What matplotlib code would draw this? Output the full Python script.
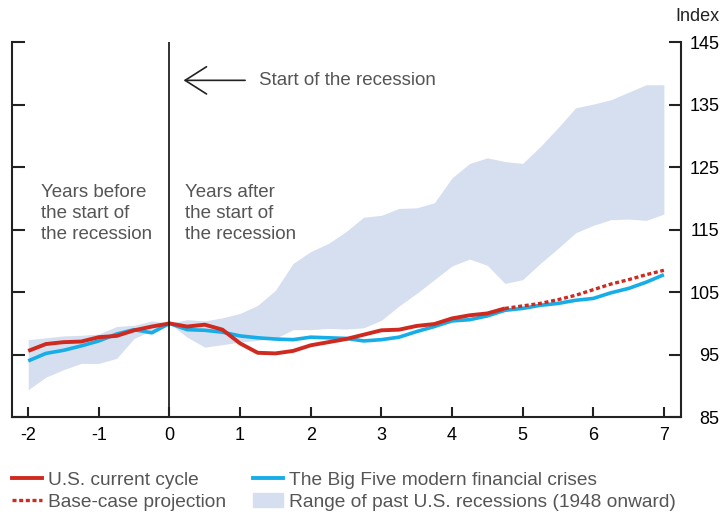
import numpy as np
import matplotlib.pyplot as plt
from matplotlib.lines import Line2D
from matplotlib.patches import Patch

plt.rcParams['font.family'] = ['Liberation Sans', 'DejaVu Sans']
plt.rcParams['axes.unicode_minus'] = False

# quarters from two years before to seven years after the start of the recession
years = np.arange(-2, 7.01, 0.25)

us_current = [95.6, 96.7, 97.0, 97.1, 97.8, 98.0, 98.9, 99.5, 100.0, 99.5, 99.8, 99.0,
              96.8, 95.3, 95.2, 95.6, 96.5, 97.0, 97.5, 98.2, 98.9, 99.0, 99.6,
              99.9, 100.8, 101.3, 101.6, 102.4]
base_case = [102.4, 102.8, 103.2, 103.8, 104.5, 105.4, 106.3, 107.0, 107.8, 108.5]

big_five = [94.0, 95.2, 95.7, 96.4, 97.2, 98.3, 99.0, 98.5, 100.0, 99.0, 98.9, 98.6,
            98.0, 97.7, 97.5, 97.4, 97.8, 97.7, 97.6, 97.2, 97.4, 97.8, 98.7, 99.5,
            100.4, 100.6, 101.2, 102.1, 102.4, 102.9, 103.2, 103.7, 104.0, 104.9,
            105.6, 106.6, 107.8]

range_hi = [97.4, 97.7, 98.0, 98.1, 98.3, 99.5, 99.7, 100.4, 100.0, 100.6, 100.4, 100.9,
            101.6, 102.9, 105.3, 109.6, 111.5, 112.8, 114.7, 117.0, 117.3, 118.4, 118.5,
            119.3, 123.3, 125.6, 126.5, 125.9, 125.6, 128.3, 131.3, 134.5, 135.1, 135.8,
            137.0, 138.2, 138.2]
range_lo = [89.4, 91.4, 92.6, 93.6, 93.6, 94.4, 97.6, 98.9, 100.0, 97.8, 96.2, 96.6,
            97.0, 97.3, 97.6, 99.0, 99.0, 99.2, 99.1, 99.3, 100.5, 102.8, 104.8, 107.0,
            109.2, 110.3, 109.3, 106.4, 107.0, 109.6, 112.0, 114.5, 115.7, 116.6, 116.7,
            116.5, 117.5]

red = '#cf2a20'
blue = '#17ade6'
band = '#d5dff0'
grey = '#555555'
dark = '#222222'

fig = plt.figure(figsize=(7.22, 5.15), dpi=100)
ax = fig.add_axes([0.0166, 0.190, 0.9264, 0.728])

ax.fill_between(years, range_lo, range_hi, color=band, lw=0)
ax.plot(years, big_five, color=blue, lw=2.6, solid_capstyle='butt')
ax.plot(years[:len(us_current)], us_current, color=red, lw=2.8, solid_capstyle='butt')
ax.plot(years[len(us_current) - 1:], base_case, color=red, lw=2.4, ls=(0, (1.2, 0.8)))
ax.axvline(0, color=dark, lw=1.3)

ax.set_xlim(-2.23, 7.24)
ax.set_ylim(85, 145)
ax.set_xticks(range(-2, 8))
ax.set_yticks(range(85, 146, 10))

ax.spines['top'].set_visible(False)
for s in ['left', 'right', 'bottom']:
    ax.spines[s].set_linewidth(1.5)
    ax.spines[s].set_color(dark)
ax.yaxis.set_ticks_position('both')
ax.tick_params(axis='y', direction='in', length=9, width=1.5, color=dark,
               labelleft=False, labelright=True, labelsize=13, pad=28)
for lab in ax.get_yticklabels():
    lab.set_horizontalalignment('right')
ax.tick_params(axis='x', direction='in', length=7, width=1.5, color=dark,
               labelsize=13, pad=7)

fig.text(0.997, 0.967, 'Index', ha='right', va='center', fontsize=13, color=dark)

ax.text(-1.825, 117.6, 'Years before\nthe start of\nthe recession', ha='left', va='center',
        fontsize=13.5, color=grey, linespacing=1.3)
ax.text(0.226, 117.6, 'Years after\nthe start of\nthe recession', ha='left', va='center',
        fontsize=13.5, color=grey, linespacing=1.3)
ax.annotate('', xy=(0.16, 138.9), xytext=(1.11, 138.9),
            arrowprops=dict(arrowstyle='->, head_length=0.55, head_width=0.35',
                            color=dark, lw=1.2, mutation_scale=28))
ax.text(1.27, 138.9, 'Start of the recession', ha='left', va='center', fontsize=13.5, color=grey)

handles = [Line2D([], [], color=red, lw=2.8),
           Line2D([], [], color=red, lw=2.4, ls=(0, (1.2, 0.8))),
           Line2D([], [], color=blue, lw=2.8),
           Patch(color=band)]
labels = ['U.S. current cycle', 'Base-case projection',
          'The Big Five modern financial crises', 'Range of past U.S. recessions (1948 onward)']
leg = fig.legend(handles, labels, ncol=2, loc='upper left', bbox_to_anchor=(0.016, 0.084),
                 frameon=False, fontsize=13.8, handlelength=1.6, handletextpad=0.28,
                 columnspacing=1.4, labelspacing=0.22, borderaxespad=0.0,
                 borderpad=0.0)
for t in leg.get_texts():
    t.set_color(grey)

fig.savefig('out.png', dpi=100)
